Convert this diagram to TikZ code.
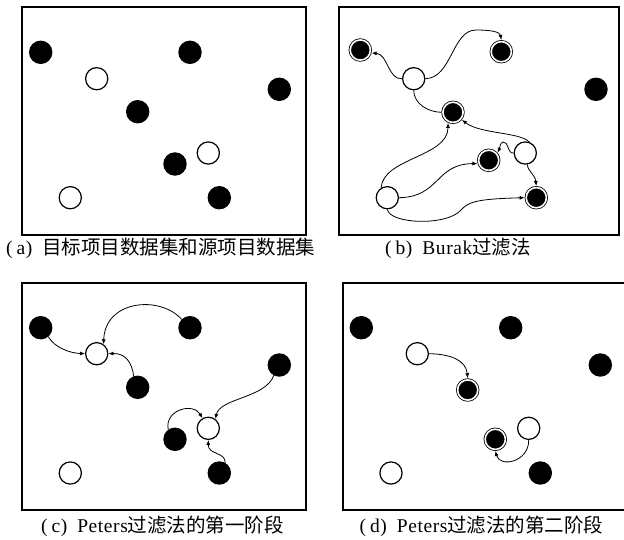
\documentclass[tikz,border=0pt]{standalone}
\usepackage{fontspec}
\newfontfamily\cjk{Noto Sans CJK SC}
\newfontfamily\latin[LetterSpace=3]{Liberation Serif}
\usetikzlibrary{arrows.meta}
% sub-figure tag such as (a), followed by the gap before the title
\newcommand{\subtag}[1]{(\hspace{4pt}#1)\hspace{10pt}}
\begin{document}
\begin{tikzpicture}[x=1pt,y=-1pt,
  panel/.style={draw=black,line width=1.3pt},
  dot/.style={circle,inner sep=0pt,minimum size=22.2pt,line width=1.2pt,draw=black},
  src/.style={dot,fill=white},
  tgt/.style={dot,fill=black},
  kept/.style={circle,inner sep=0pt,minimum size=20.2pt,draw=black,line width=0.8pt,
    double=white,double distance=1.6pt,fill=black,outer sep=1.6pt},
  link/.style={line width=0.8pt,-{Latex[length=5pt,width=4pt]}},
  bare/.style={line width=0.8pt},
  sublabel/.style={font=\fontsize{19.5}{22}\latin,anchor=center,inner sep=0pt}
]
\useasboundingbox (0,0) rectangle (624,539);

% panel frames
\draw[panel] (22,7) rectangle (306,235);
\draw[panel] (339,7) rectangle (619,235);
\draw[panel] (22,283) rectangle (306,510);
\draw[panel] (343,283) rectangle (627,510);

% (a) target and source data sets
\node[tgt] (a1) at (40.7,52.3) {};
\node[tgt] (a2) at (190,52.3) {};
\node[src] (aw1) at (96.7,78.7) {};
\node[tgt] (a3) at (279.3,89.3) {};
\node[tgt] (a4) at (137.7,111.7) {};
\node[src] (aw2) at (208.3,153) {};
\node[tgt] (a5) at (175,164) {};
\node[src] (aw3) at (70.3,197.7) {};
\node[tgt] (a6) at (219.3,197.7) {};
\node[sublabel,anchor=west] (capa) at (6,248) {\subtag{a}{\cjk 目标项目数据集和源项目数据集}};

% (b) Burak filter
\node[kept] (b1) at (360.3,50) {};
\node[kept] (b2) at (501.3,51.7) {};
\node[src] (bw1) at (413.7,78.7) {};
\node[tgt] (b3) at (596,89.3) {};
\node[kept] (b4) at (453,112.3) {};
\node[src] (bw2) at (525.3,153) {};
\node[kept] (b5) at (488.7,160.3) {};
\node[src] (bw3) at (387.3,197.7) {};
\node[kept] (b6) at (536.3,197.7) {};
\draw[link] (bw1.west) .. controls (388,80) and (388,54) .. (b1.-15);
\draw[link] (bw1.east) .. controls (452,78) and (452,30) .. (476,30)
  .. controls (492,30) and (500,32) .. (b2.north);
\draw[bare] (bw1.south) .. controls (414,104) and (428,112) .. (b4.west);
\draw[link] (bw3.122) .. controls (383,158) and (448,157) .. (b4.-115);
\draw[link] (bw2.70) .. controls (520,132) and (480,134) .. (b4.-40);
\draw[link] (bw2.west) .. controls (507,154) and (509,141) .. (503,142)
  .. controls (500,143) and (500,147) .. (b5.40);
\draw[link] (bw2.-80) .. controls (528,172) and (535,174) .. (b6.north);
\draw[link] (bw3.east) .. controls (440,197) and (435,164) .. (b5.196);
\draw[link] (bw3.south) .. controls (390,224) and (445,226) .. (460,211)
  .. controls (468,202) and (475,199) .. (b6.west);
\node[sublabel] (capb) at (458,248) {\subtag{b}Burak{\cjk 过滤法}};

% (c) Peters filter, first stage
\node[tgt] (c1) at (40.7,327.7) {};
\node[tgt] (c2) at (190,327.7) {};
\node[src] (cw1) at (96.7,353.7) {};
\node[tgt] (c3) at (279.3,365) {};
\node[tgt] (c4) at (137.7,387.3) {};
\node[src] (cw2) at (208.3,428.3) {};
\node[tgt] (c5) at (175,439.3) {};
\node[src] (cw3) at (70.3,473) {};
\node[tgt] (c6) at (219.3,473) {};
\draw[link] (c1.-50) .. controls (55,348) and (70,353) .. (cw1.west);
\draw[link] (c2.135) .. controls (160,295) and (105,300) .. (cw1.54);
\draw[link] (c4.110) .. controls (132,362) and (125,353) .. (cw1.east);
\draw[link] (c3.-118) .. controls (266,398) and (220,398) .. (cw2.53);
\draw[link] (c5.125) .. controls (164,410) and (193,402) .. (cw2.120);
\draw[link] (c6.60) .. controls (226,452) and (208,455) .. (cw2.south);
\node[sublabel] (capc) at (162.5,526) {\subtag{c}Peters{\cjk 过滤法的第一阶段}};

% (d) Peters filter, second stage
\node[tgt] (d1) at (361.3,327.7) {};
\node[tgt] (d2) at (510.7,327.7) {};
\node[src] (dw1) at (417.3,353.7) {};
\node[tgt] (d3) at (600.3,365) {};
\node[kept] (d4) at (467.7,390) {};
\node[src] (dw2) at (528.7,428.3) {};
\node[kept] (d5) at (495.3,439.3) {};
\node[src] (dw3) at (391,473) {};
\node[tgt] (d6) at (540.3,473) {};
\draw[link] (dw1.east) .. controls (450,354) and (466,360) .. (d4.north);
\draw[link] (dw2.south) .. controls (529,462) and (500,468) .. (d5.south);
\node[sublabel] (capd) at (481.5,526) {\subtag{d}Peters{\cjk 过滤法的第二阶段}};
\end{tikzpicture}
\end{document}
